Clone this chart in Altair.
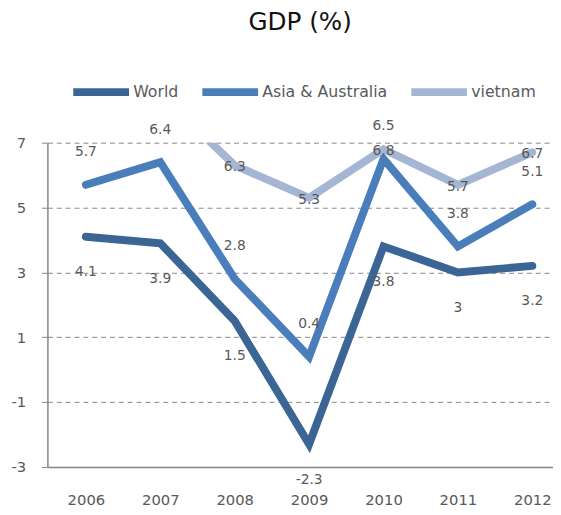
import altair as alt
import pandas as pd

years = [2006, 2007, 2008, 2009, 2010, 2011, 2012]
series_names = ["World", "Asia & Australia", "vietnam"]
world = [4.1, 3.9, 1.5, -2.3, 3.8, 3, 3.2]
asia = [5.7, 6.4, 2.8, 0.4, 6.5, 3.8, 5.1]
vietnam = [8.2, 8.5, 6.3, 5.3, 6.8, 5.7, 6.7]
colors = ["#3A6595", "#4A7EBB", "#A5B6D4"]
y_ticks = [-3, -1, 1, 3, 5, 7]

rows = []
for name, vals in zip(series_names, [world, asia, vietnam]):
    for y, v in zip(years, vals):
        rows.append({"year": y, "series": name, "value": v, "label": f"{v:g}"})
df = pd.DataFrame(rows)

FONT = "DejaVu Sans"
GRAY = "#595959"

x = alt.X("year:Q", scale=alt.Scale(domain=[2005.483, 2012.278], nice=False, zero=False),
          axis=alt.Axis(values=years, format="d", title=None, grid=False, ticks=False,
                        labelPadding=26, labelFontSize=15, labelColor=GRAY, labelFont=FONT,
                        domainColor="#868686", domainWidth=1.5))
y = alt.Y("value:Q", scale=alt.Scale(domain=[-3, 7], nice=False, zero=False),
          axis=alt.Axis(values=y_ticks, title=None, grid=True, gridDash=[5, 4],
                        gridColor="#868686", gridWidth=1, tickSize=6, tickColor="#868686",
                        labelExpr="'' + datum.value",
                        labelPadding=16, labelFontSize=15, labelColor=GRAY, labelFont=FONT,
                        domainColor="#868686", domainWidth=1.5))

color = alt.Color("series:N", sort=series_names,
                  scale=alt.Scale(domain=series_names, range=colors),
                  legend=alt.Legend(title=None, orient="none", direction="horizontal",
                                    legendX=22, legendY=-84, symbolType="stroke",
                                    symbolStrokeWidth=8, symbolSize=3200,
                                    labelFontSize=16, labelColor=GRAY, labelFont=FONT,
                                    labelOffset=0, columnPadding=8))

base = alt.Chart(df)
lines = base.mark_line(strokeWidth=8, strokeCap="round", clip=True).encode(
    x=x, y=y, color=color, order=alt.Order("year:Q"))

def labels(name, dy):
    return base.transform_filter(
        (alt.datum.series == name) & (alt.datum.value <= 7)).mark_text(
        dy=dy, fontSize=14, color=GRAY, font=FONT).encode(
        x=alt.X("year:Q"), y=alt.Y("value:Q"), text="label:N")

chart = alt.layer(
    lines,
    labels("World", 36),
    labels("Asia & Australia", -33),
    labels("vietnam", 2),
).properties(
    width=513, height=329,
    title=alt.TitleParams("GDP (%)", fontSize=25, font=FONT, fontWeight="normal",
                          color="#111111", anchor="middle", offset=25),
    autosize=alt.AutoSizeParams(type="none"),
    padding={"left": 40, "top": 133, "right": 0, "bottom": 37},
).configure_view(stroke=None)

chart.save("out.html", embed_options={"renderer": "svg", "actions": False})
